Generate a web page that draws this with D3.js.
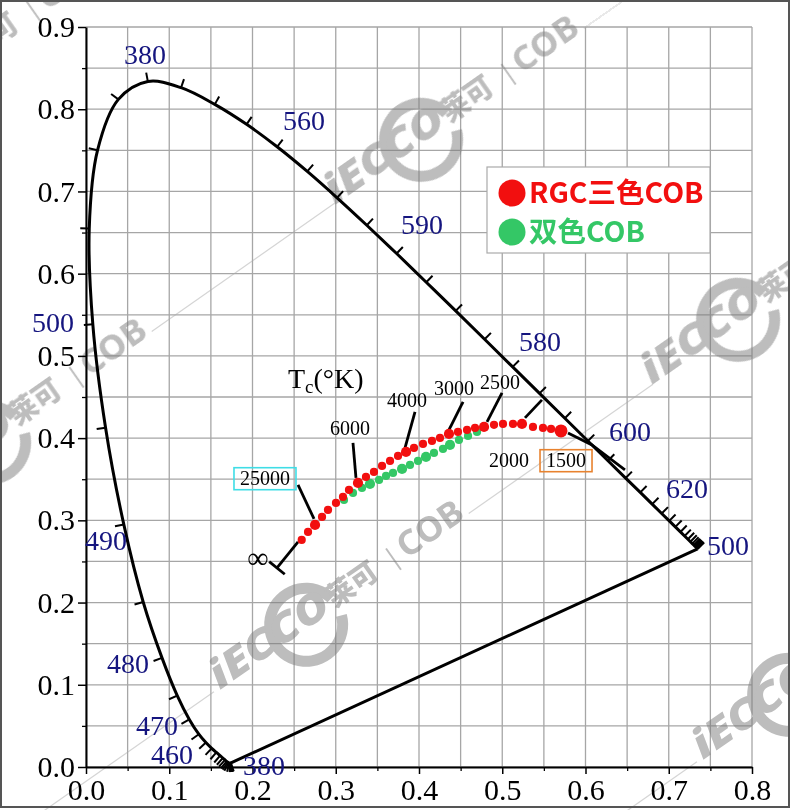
<!DOCTYPE html>
<html><head><meta charset="utf-8">
<script src="https://cdn.jsdelivr.net/npm/d3@7/dist/d3.min.js"></script>
<style>body{margin:0;background:#fff;}svg{display:block}</style>
</head><body>
<svg id="c" width="790" height="810"></svg>
<script>
// ---------- DATA ----------
// CIE 1931 spectral locus (wavelength nm, chromaticity x, y)
const wavelengths = [380,385,390,395,400,405,410,415,420,425,430,435,440,445,450,455,460,465,470,475,480,485,490,495,500,505,510,515,520,525,530,535,540,545,550,555,560,565,570,575,580,585,590,595,600,605,610,615,620,625,630,635,640,645,650,655,660,665,670,675,680,685,690,695,700];
const locusX = [0.1741,0.1740,0.1738,0.1736,0.1733,0.1730,0.1726,0.1721,0.1714,0.1703,0.1689,0.1669,0.1644,0.1611,0.1566,0.1510,0.1440,0.1355,0.1241,0.1096,0.0913,0.0687,0.0454,0.0235,0.0082,0.0039,0.0139,0.0389,0.0743,0.1142,0.1547,0.1929,0.2296,0.2658,0.3016,0.3373,0.3731,0.4087,0.4441,0.4788,0.5125,0.5448,0.5752,0.6029,0.6270,0.6482,0.6658,0.6801,0.6915,0.7006,0.7079,0.7140,0.7190,0.7230,0.7260,0.7283,0.7300,0.7311,0.7320,0.7327,0.7334,0.7340,0.7344,0.7346,0.7347];
const locusY = [0.0050,0.0050,0.0049,0.0049,0.0048,0.0048,0.0048,0.0048,0.0051,0.0058,0.0069,0.0086,0.0109,0.0138,0.0177,0.0227,0.0297,0.0399,0.0578,0.0868,0.1327,0.2007,0.2950,0.4127,0.5384,0.6548,0.7502,0.8120,0.8338,0.8262,0.8059,0.7816,0.7543,0.7243,0.6923,0.6589,0.6245,0.5896,0.5547,0.5202,0.4866,0.4544,0.4242,0.3965,0.3725,0.3514,0.3340,0.3197,0.3083,0.2993,0.2920,0.2859,0.2809,0.2770,0.2740,0.2717,0.2700,0.2689,0.2680,0.2673,0.2666,0.2660,0.2656,0.2654,0.2653];

// wavelength labels as printed on the chart, with their (x, y) spots
const wlLabels = ['380','560','590','580','600','620','500','500','490','480','470','460','380'];
const wlLabelX = [0.0709,0.2619,0.4036,0.5453,0.6535,0.7219,0.7712,-0.0396,0.0240,0.0505,0.0853,0.1033,0.2138];
const wlLabelY = [0.8662,0.7859,0.6594,0.5170,0.4075,0.3382,0.2689,0.5401,0.2749,0.1253,0.0499,0.0158,0.0020];

// RGC three-colour COB points
const rgcX = [0.2591,0.2667,0.2751,0.2835,0.2907,0.3003,0.3087,0.3159,0.3267,0.3363,0.3459,0.3556,0.3652,0.3748,0.3844,0.3940,0.4048,0.4156,0.4252,0.4360,0.4468,0.4577,0.4673,0.4781,0.4901,0.5009,0.5129,0.5237,0.5369,0.5489,0.5586,0.5706];
const rgcY = [0.2762,0.2859,0.2944,0.3041,0.3127,0.3212,0.3285,0.3370,0.3455,0.3528,0.3589,0.3662,0.3723,0.3783,0.3832,0.3881,0.3929,0.3966,0.4002,0.4051,0.4075,0.4100,0.4124,0.4136,0.4161,0.4173,0.4173,0.4173,0.4136,0.4124,0.4112,0.4088];
const rgcMark = [0,0,1,0,0,0,0,0,1,0,0,0,0,0,1,0,0,0,0,1,0,0,0,1,0,0,0,1,0,0,0,2];
// two-colour COB points
const dualX = [0.3099,0.3207,0.3315,0.3411,0.3520,0.3604,0.3688,0.3796,0.3892,0.3988,0.4084,0.4180,0.4288,0.4372,0.4480,0.4589,0.4697];
const dualY = [0.3248,0.3333,0.3394,0.3443,0.3491,0.3540,0.3577,0.3625,0.3674,0.3723,0.3771,0.3820,0.3869,0.3917,0.3978,0.4027,0.4075];
const dualMark = [0,0,0,1,0,0,0,1,0,0,1,0,0,1,0,0,0];

// isotemperature lines (Tc, K)
const isoNames = ['∞','25000','6000','4000','3000','2500','2000','1500'];
const isoLines = [
  [[0.2547,0.2737],[0.2294,0.2421]],
  [[0.2547,0.3431],[0.2739,0.3017]],
  [[0.3207,0.3942],[0.3243,0.3516]],
  [[0.3952,0.4319],[0.3832,0.3881]],
  [[0.4529,0.4440],[0.4360,0.4100]],
  [[0.4997,0.4550],[0.4817,0.4197]],
  [[0.5477,0.4465],[0.5273,0.4246]],
  [[0.5790,0.4063],[0.6078,0.3917],[0.6474,0.3613]]
];
const isoLabelX = [0.2066,0.2150,0.3171,0.3856,0.4420,0.4973,0.5081,0.5766];
const isoLabelY = [0.2543,0.3516,0.4124,0.4465,0.4611,0.4684,0.3735,0.3735];

const xMajor = [0,0.1,0.2,0.3,0.4,0.5,0.6,0.7,0.8];
const xMinor = [0.05,0.15,0.25,0.35,0.45,0.55,0.65,0.75];
const yMajor = [0,0.1,0.2,0.3,0.4,0.5,0.6,0.7,0.8,0.9];
const yMinor = [0.05,0.15,0.25,0.35,0.45,0.55,0.65,0.75,0.85];

const legendNames = ['RGC三色COB','双色COB'];

// ---------- DRAW ----------
const W=790,H=810;
const svg=d3.select('#c');
svg.append('rect').attr('width',W).attr('height',H).attr('fill','#fff');
const x=d3.scaleLinear().domain([0,0.8]).range([86,752]);
const y=d3.scaleLinear().domain([0,0.9]).range([767,27]);
const serif='"Liberation Serif","Times New Roman",serif';

// grid
const grid=svg.append('g').attr('stroke','#a6a6a6').attr('stroke-width',1.3);
xMajor.concat(xMinor).forEach(v=>grid.append('line').attr('x1',x(v)).attr('x2',x(v)).attr('y1',y(0)).attr('y2',y(0.9)));
yMajor.concat(yMinor).forEach(v=>grid.append('line').attr('y1',y(v)).attr('y2',y(v)).attr('x1',x(0)).attr('x2',x(0.8)));

// watermarks
const wmg=svg.append('g').attr('opacity',0.5);
const wmUnits=[[-140,142,false],[-97,508,false],[335,205,false],[220,690,true],[652,385,false],[703,760,true]];
wmUnits.forEach(([px,py,before])=>{
  const g=wmg.append('g').attr('transform',`translate(${px},${py}) rotate(-35)`);
  g.append('line').attr('x1',305).attr('x2',530).attr('y1',-2).attr('y2',-2).attr('stroke','#aaa').attr('stroke-width',1.2);
  if(before) g.append('line').attr('x1',-230).attr('x2',-6).attr('y1',-2).attr('y2',-2).attr('stroke','#aaa').attr('stroke-width',1.2);
  const arc=d3.arc().innerRadius(31).outerRadius(42).startAngle(0.35).endAngle(Math.PI*2-0.2);
  g.append('path').attr('d',arc()).attr('transform','translate(108,-4) rotate(90)').attr('fill','#7a7a7a');
  g.append('text').attr('x',0).attr('y',0).attr('font-family','"Open Sans",sans-serif').attr('font-weight',800).attr('font-style','italic').attr('font-size',40).attr('textLength',138).attr('lengthAdjust','spacingAndGlyphs').attr('fill','#7a7a7a').text('iECCO');
  g.append('text').attr('x',141).attr('y',-1).attr('font-family','"Noto Sans CJK SC",sans-serif').attr('font-weight',900).attr('font-size',28).attr('textLength',56).attr('lengthAdjust','spacingAndGlyphs').attr('fill','#7a7a7a').text('莱可');
  g.append('text').attr('x',210).attr('y',-1).attr('font-family','"Noto Sans",sans-serif').attr('font-size',26).attr('fill','#7a7a7a').text('|');
  g.append('text').attr('x',228).attr('y',0).attr('font-family','"Noto Sans",sans-serif').attr('font-weight',700).attr('font-size',34).attr('textLength',73).attr('lengthAdjust','spacingAndGlyphs').attr('fill','#7a7a7a').text('COB');
});

// axes
function styleAxis(g){
  g.select('.domain').attr('stroke','#000').attr('stroke-width',2);
  g.selectAll('.tick line').attr('stroke','#000').attr('stroke-width',1.5);
  g.selectAll('.tick text').attr('font-family',serif).attr('font-size',30).attr('fill','#000');
}
svg.append('g').attr('transform',`translate(0,${y(0)})`)
  .call(d3.axisBottom(x).tickValues(xMinor).tickSize(4).tickSizeOuter(0).tickFormat(''))
  .call(g=>{g.select('.domain').remove();g.selectAll('.tick line').attr('stroke','#000').attr('stroke-width',1.3);});
svg.append('g').attr('transform',`translate(${x(0)},0)`)
  .call(d3.axisLeft(y).tickValues(yMinor).tickSize(4).tickSizeOuter(0).tickFormat(''))
  .call(g=>{g.select('.domain').remove();g.selectAll('.tick line').attr('stroke','#000').attr('stroke-width',1.3);});
svg.append('g').attr('transform',`translate(0,${y(0)})`)
  .call(d3.axisBottom(x).tickValues(xMajor).tickSize(7).tickSizeOuter(0).tickPadding(5).tickFormat(d3.format('.1f')))
  .call(styleAxis);
svg.append('g').attr('transform',`translate(${x(0)},0)`)
  .call(d3.axisLeft(y).tickValues(yMajor).tickSize(8).tickSizeOuter(0).tickPadding(3).tickFormat(d3.format('.1f')))
  .call(styleAxis);

// spectral locus
const pts=locusX.map((d,i)=>[x(d),y(locusY[i])]);
svg.append('path').attr('d',d3.line().curve(d3.curveCatmullRom.alpha(0.5))(pts))
  .attr('fill','none').attr('stroke','#000').attr('stroke-width',3).attr('stroke-linejoin','round');
svg.append('line').attr('x1',pts[pts.length-1][0]).attr('y1',pts[pts.length-1][1]).attr('x2',pts[0][0]).attr('y2',pts[0][1])
  .attr('stroke','#000').attr('stroke-width',3);
// wavelength ticks (outward normals)
const wp=[x(0.3333),y(0.3333)];
const tg=svg.append('g').attr('stroke','#000').attr('stroke-width',2);
pts.forEach((p,i)=>{
  const a=pts[Math.max(0,i-1)], b=pts[Math.min(pts.length-1,i+1)];
  let tx=b[0]-a[0], ty=b[1]-a[1]; const L=Math.hypot(tx,ty)||1; tx/=L; ty/=L;
  let nx=-ty, ny=tx;
  if((p[0]-wp[0])*nx+(p[1]-wp[1])*ny<0){nx=-nx;ny=-ny;}
  tg.append('line').attr('x1',p[0]).attr('y1',p[1]).attr('x2',p[0]+nx*9).attr('y2',p[1]+ny*9);
});
// wavelength labels
svg.append('g').selectAll('text').data(wlLabels).join('text')
  .attr('x',(d,i)=>x(wlLabelX[i])).attr('y',(d,i)=>y(wlLabelY[i]))
  .attr('dy','0.34em').attr('text-anchor','middle')
  .attr('font-family',serif).attr('font-size',28).attr('fill','#15157f').text(d=>d);

// isotemperature lines
const isoG=svg.append('g').attr('stroke','#000').attr('stroke-width',2.8).attr('fill','none');
isoLines.forEach(seg=>{
  isoG.append('path').attr('d',d3.line().x(d=>x(d[0])).y(d=>y(d[1]))(seg));
});
// crossbar at infinity end
{
  const s=isoLines[0]; const p0=[x(s[0][0]),y(s[0][1])], p1=[x(s[1][0]),y(s[1][1])];
  let dx=p1[0]-p0[0], dy=p1[1]-p0[1]; const L=Math.hypot(dx,dy); dx/=L; dy/=L;
  isoG.append('line').attr('x1',p1[0]-dy*10).attr('y1',p1[1]+dx*10).attr('x2',p1[0]+dy*10).attr('y2',p1[1]-dx*10);
}

// points
const rScale=d => [4.1,5.1,6.5][d];
svg.append('g').selectAll('circle').data(dualX).join('circle')
  .attr('cx',d=>x(d)).attr('cy',(d,i)=>y(dualY[i])).attr('r',(d,i)=>rScale(dualMark[i])).attr('fill','#34c766');
svg.append('g').selectAll('circle').data(rgcX).join('circle')
  .attr('cx',d=>x(d)).attr('cy',(d,i)=>y(rgcY[i])).attr('r',(d,i)=>rScale(rgcMark[i])).attr('fill','#f20f0f');

// isotemperature labels
const isoT=svg.append('g');
isoNames.forEach((n,i)=>{
  const t=isoT.append('text').attr('x',x(isoLabelX[i])).attr('y',y(isoLabelY[i])).attr('dy','0.34em')
    .attr('text-anchor','middle').attr('font-family',serif).attr('font-size',i===0?30:20).attr('fill','#000').text(n);
  if(n==='25000'||n==='1500'){
    const bb=t.node().getBBox();
    isoT.insert('rect','text').attr('x',bb.x-6).attr('y',bb.y+1).attr('width',bb.width+12).attr('height',bb.height)
      .attr('fill','none').attr('stroke',n==='25000'?'#3fdde6':'#e8822e').attr('stroke-width',1.6);
  }
});
// Tc(°K)
const tc=svg.append('text').attr('x',x(0.2426)).attr('y',y(0.4611)).attr('font-family',serif).attr('font-size',28).attr('fill','#000');
tc.append('tspan').text('T');
tc.append('tspan').attr('font-size',19).attr('dy',5).text('c');
tc.append('tspan').attr('dy',-5).text('(°K)');

// legend
const lg=svg.append('g');
lg.append('rect').attr('x',487).attr('y',167).attr('width',223).attr('height',86).attr('fill','#fff').attr('stroke','#aaa').attr('stroke-width',1.2);
const legColors=['#f20f0f','#34c766'];
legendNames.forEach((n,i)=>{
  const cy=193+i*39;
  lg.append('circle').attr('cx',512).attr('cy',cy).attr('r',13.5).attr('fill',legColors[i]);
  lg.append('text').attr('x',529).attr('y',cy).attr('dy','0.36em').attr('font-family','"Noto Sans CJK SC",sans-serif')
    .attr('font-weight',700).attr('font-size',28.5).attr('fill',legColors[i]).text(n);
});

// picture frame
svg.append('rect').attr('x',1).attr('y',1).attr('width',W-2).attr('height',H-4).attr('fill','none').attr('stroke','#555').attr('stroke-width',2);
</script>
</body></html>
